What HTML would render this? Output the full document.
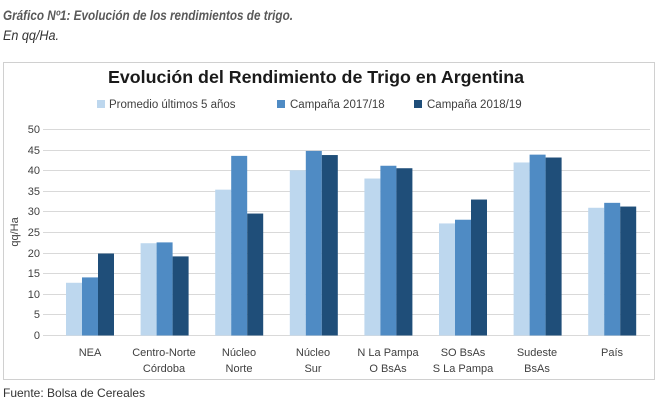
<!DOCTYPE html><html><head><meta charset="utf-8"><style>
body{margin:0;background:#fff;width:658px;height:402px;overflow:hidden;font-family:"Liberation Sans",sans-serif}
</style></head><body>
<svg width="658" height="402" xmlns="http://www.w3.org/2000/svg" font-family="Liberation Sans, sans-serif">
<text x="3" y="20" font-size="13.5" font-style="italic" font-weight="bold" fill="#595959" textLength="290" lengthAdjust="spacingAndGlyphs">Gráfico Nº1: Evolución de los rendimientos de trigo.</text>
<text x="3" y="40" font-size="13.5" font-style="italic" fill="#333" textLength="56" lengthAdjust="spacingAndGlyphs">En qq/Ha.</text>
<rect x="3.5" y="62.5" width="651" height="317" fill="#fff" stroke="#d0d0d0"/>
<text x="316" y="83" font-size="17.5" font-weight="bold" fill="#1a1a1a" text-anchor="middle" textLength="416" lengthAdjust="spacingAndGlyphs">Evolución  del Rendimiento de Trigo en Argentina</text>
<g font-size="11.5" fill="#404040">
<rect x="97" y="100" width="8" height="8" fill="#bdd7ee"/><text x="109" y="108">Promedio últimos 5 años</text>
<rect x="277" y="100" width="8" height="8" fill="#4f8bc4"/><text x="290" y="108">Campaña 2017/18</text>
<rect x="414" y="100" width="8" height="8" fill="#1f4e79"/><text x="427" y="108">Campaña 2018/19</text>
</g>
<g stroke="#d9d9d9" stroke-width="1">
<line x1="43" x2="650" y1="129.5" y2="129.5"/><line x1="43" x2="650" y1="150.5" y2="150.5"/><line x1="43" x2="650" y1="170.5" y2="170.5"/><line x1="43" x2="650" y1="191.5" y2="191.5"/><line x1="43" x2="650" y1="211.5" y2="211.5"/><line x1="43" x2="650" y1="232.5" y2="232.5"/><line x1="43" x2="650" y1="253.5" y2="253.5"/><line x1="43" x2="650" y1="273.5" y2="273.5"/><line x1="43" x2="650" y1="294.5" y2="294.5"/><line x1="43" x2="650" y1="314.5" y2="314.5"/><line x1="43" x2="650" y1="335.5" y2="335.5"/>
</g>
<g font-size="11" fill="#404040" text-anchor="end">
<text x="40" y="133">50</text><text x="40" y="154">45</text><text x="40" y="174">40</text><text x="40" y="195">35</text><text x="40" y="215">30</text><text x="40" y="236">25</text><text x="40" y="257">20</text><text x="40" y="277">15</text><text x="40" y="298">10</text><text x="40" y="318">5</text><text x="40" y="339">0</text>
</g>
<text transform="translate(18,232) rotate(-90)" font-size="11" fill="#404040" text-anchor="middle">qq/Ha</text>
<g id="bars"></g>
<g font-size="11" fill="#404040" text-anchor="middle">
<text x="90" y="356">NEA</text>
<text x="164" y="356">Centro-Norte</text><text x="164" y="372">Córdoba</text>
<text x="239" y="356">Núcleo</text><text x="239" y="372">Norte</text>
<text x="313" y="356">Núcleo</text><text x="313" y="372">Sur</text>
<text x="388" y="356">N La Pampa</text><text x="388" y="372">O BsAs</text>
<text x="463" y="356">SO BsAs</text><text x="463" y="372">S La Pampa</text>
<text x="537" y="356">Sudeste</text><text x="537" y="372">BsAs</text>
<text x="612" y="356">País</text>
</g>
<text x="3" y="397" font-size="12" fill="#333">Fuente: Bolsa de Cereales</text>
</svg>
<script>
var d=[[12.8,14.1,19.9],[22.4,22.6,19.2],[35.4,43.6,29.6],[40.1,44.8,43.8],[38.1,41.2,40.6],[27.2,28.1,33.0],[42.0,43.9,43.2],[31.0,32.2,31.3]];
var c=["#bdd7ee","#4f8bc4","#1f4e79"],g=document.getElementById("bars"),s="";
d.forEach(function(v,i){var cx=90+i*74.6;v.forEach(function(y,j){var h=y*4.12;s+='<rect x="'+(cx-24+j*16)+'" y="'+(335.5-h)+'" width="16" height="'+h+'" fill="'+c[j]+'"/>';});});
g.innerHTML=s;
</script>
</body></html>
